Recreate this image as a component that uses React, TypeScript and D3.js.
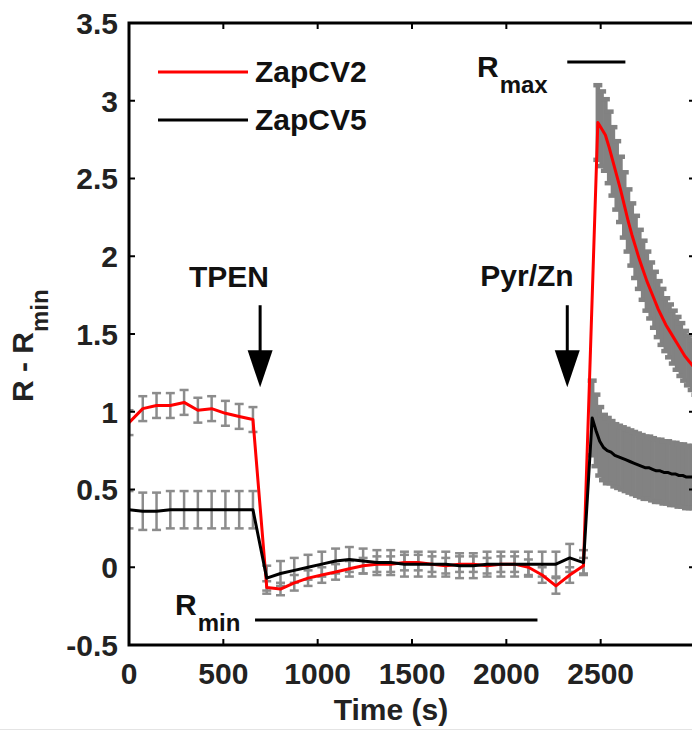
import React from 'react';
import * as d3 from 'd3';

// ---- data (time in s, values in R - Rmin) ----
const preTime = [0, 73, 146, 219, 292, 365, 438, 511, 584, 657, 730, 803, 876, 949, 1022, 1095, 1168, 1241, 1314, 1387, 1460, 1533, 1606, 1679, 1752, 1825, 1898, 1971, 2044, 2117, 2190, 2263, 2336, 2409];

const redPre = [0.93, 1.02, 1.04, 1.04, 1.06, 1.01, 1.02, 0.99, 0.97, 0.95, -0.13, -0.14, -0.10, -0.07, -0.05, -0.03, -0.01, 0.01, 0.02, 0.02, 0.03, 0.03, 0.02, 0.01, 0.02, 0.02, 0.01, 0.02, 0.02, 0.00, -0.05, -0.12, -0.05, 0.01];
const redPreErr = [0.08, 0.08, 0.08, 0.08, 0.08, 0.08, 0.08, 0.08, 0.08, 0.08, 0.04, 0.04, 0.05, 0.05, 0.05, 0.05, 0.05, 0.05, 0.05, 0.05, 0.05, 0.05, 0.05, 0.05, 0.05, 0.05, 0.05, 0.05, 0.05, 0.05, 0.05, 0.05, 0.05, 0.05];

const blackPre = [0.37, 0.36, 0.36, 0.37, 0.37, 0.37, 0.37, 0.37, 0.37, 0.37, -0.07, -0.04, -0.02, 0.00, 0.02, 0.04, 0.05, 0.04, 0.03, 0.03, 0.02, 0.02, 0.02, 0.02, 0.01, 0.01, 0.02, 0.02, 0.02, 0.02, 0.02, 0.02, 0.06, 0.03];
const blackPreErr = [0.12, 0.12, 0.12, 0.12, 0.12, 0.12, 0.12, 0.12, 0.12, 0.12, 0.08, 0.08, 0.08, 0.08, 0.08, 0.08, 0.08, 0.08, 0.08, 0.08, 0.08, 0.08, 0.08, 0.08, 0.08, 0.08, 0.08, 0.08, 0.08, 0.08, 0.08, 0.08, 0.09, 0.08];

const redPostTime = [2485, 2505, 2525, 2545, 2565, 2585, 2605, 2625, 2645, 2665, 2685, 2705, 2725, 2745, 2765, 2785, 2805, 2825, 2845, 2865, 2885, 2905, 2925, 2945, 2965, 2985, 3005];
const redPost = [2.86, 2.82, 2.78, 2.70, 2.61, 2.52, 2.43, 2.33, 2.23, 2.14, 2.06, 1.98, 1.91, 1.84, 1.78, 1.72, 1.66, 1.61, 1.56, 1.52, 1.48, 1.44, 1.40, 1.36, 1.33, 1.30, 1.27];
const redPostErr = [0.24, 0.24, 0.23, 0.23, 0.22, 0.22, 0.21, 0.21, 0.20, 0.20, 0.20, 0.19, 0.19, 0.19, 0.18, 0.18, 0.18, 0.18, 0.17, 0.17, 0.17, 0.17, 0.17, 0.16, 0.16, 0.16, 0.16];

const blackPostTime = [2455, 2475, 2495, 2515, 2535, 2555, 2575, 2595, 2615, 2635, 2655, 2675, 2695, 2715, 2735, 2755, 2775, 2795, 2815, 2835, 2855, 2875, 2895, 2915, 2935, 2955, 2975, 2995];
const blackPost = [0.96, 0.88, 0.81, 0.77, 0.75, 0.74, 0.72, 0.71, 0.70, 0.69, 0.68, 0.67, 0.66, 0.65, 0.64, 0.64, 0.63, 0.62, 0.62, 0.61, 0.61, 0.60, 0.60, 0.59, 0.59, 0.58, 0.58, 0.58];
const blackPostErr = [0.24, 0.23, 0.22, 0.21, 0.21, 0.20, 0.20, 0.20, 0.20, 0.20, 0.20, 0.20, 0.20, 0.20, 0.20, 0.20, 0.20, 0.20, 0.20, 0.20, 0.20, 0.20, 0.20, 0.20, 0.20, 0.20, 0.20, 0.20];

const xTicks = [0, 500, 1000, 1500, 2000, 2500, 3000];
const xTickLabels = ['0', '500', '1000', '1500', '2000', '2500', ''];
const yTicks = [-0.5, 0, 0.5, 1, 1.5, 2, 2.5, 3, 3.5];
const yTickLabels = ['-0.5', '0', '0.5', '1', '1.5', '2', '2.5', '3', '3.5'];

const seriesNames = ['ZapCV2', 'ZapCV5'];
const seriesColors = ['#ff0000', '#000000'];

// annotation anchors (data coords)
const tpenTime = 695;
const pyrTime = 2323;
const rminSpan = [668, 2165];
const rminLevel = -0.34;
const rmaxSpan = [2323, 2631];
const rmaxLevel = 3.25;

const W = 692;
const H = 732;
const FONT = '"Liberation Sans", Arial, Helvetica, sans-serif';
const FS = 30;
const SUB = 24;

export default function App() {
  const x = d3.scaleLinear().domain([0, 3000]).range([129, 695]);
  const y = d3.scaleLinear().domain([-0.5, 3.5]).range([645, 23]);

  const redT = [...preTime, ...redPostTime];
  const redV = [...redPre, ...redPost];
  const blkT = [...preTime, ...blackPostTime];
  const blkV = [...blackPre, ...blackPost];

  const line = d3
    .line<[number, number]>()
    .x((d) => x(d[0]))
    .y((d) => y(d[1]));

  const redPts: [number, number][] = redT.map((t, i) => [t, redV[i]]);
  const blkPts: [number, number][] = blkT.map((t, i) => [t, blkV[i]]);

  const errColor = '#828282';

  const errBars = (T: number[], V: number[], E: number[], key: string, sw: number, cap: number, color: string) =>
    T.map((t, i) => {
      const cx = x(t);
      const y1 = y(V[i] + E[i]);
      const y2 = y(V[i] - E[i]);
      return (
        <g key={key + i} stroke={color} strokeWidth={sw}>
          <line x1={cx} x2={cx} y1={y1} y2={y2} />
          <line x1={cx - cap} x2={cx + cap} y1={y1} y2={y1} />
          <line x1={cx - cap} x2={cx + cap} y1={y2} y2={y2} />
        </g>
      );
    });

  const x0 = x(0);
  const x1 = x(3000);
  const yTop = y(3.5);
  const yBot = y(-0.5);
  const tickLen = 6;

  const arrow = (t: number, key: string) => {
    const ax = x(t);
    const shaftTop = y(1.685);
    const headTop = y(1.395);
    const tip = y(1.157);
    return (
      <g key={key}>
        <line x1={ax} x2={ax} y1={shaftTop} y2={headTop + 2} stroke="#000" strokeWidth={3} />
        <polygon points={`${ax - 12.5},${headTop} ${ax + 12.5},${headTop} ${ax},${tip}`} fill="#000" />
      </g>
    );
  };

  return (
    <svg
      width={W}
      height={H}
      style={{ position: 'absolute', left: 0, top: 0, background: '#fff' }}
      fontFamily={FONT}
      fontWeight="bold"
    >
      <rect x={0} y={0} width={W} height={H} fill="#fff" />
      <defs>
        <clipPath id="plotclip">
          <rect x={x0} y={yTop} width={x1 - x0} height={yBot - yTop} />
        </clipPath>
      </defs>

      <g clipPath="url(#plotclip)">
        {errBars(preTime, redPre, redPreErr, 're', 2.5, 4.5, '#8c8c8c')}
        {errBars(preTime, blackPre, blackPreErr, 'be', 2.5, 4.5, '#8c8c8c')}
        {errBars(redPostTime, redPost, redPostErr, 'rp', 4.5, 4.5, errColor)}
        {errBars(blackPostTime, blackPost, blackPostErr, 'bp', 4.5, 4.5, errColor)}
        <path d={line(redPts) || ''} fill="none" stroke={seriesColors[0]} strokeWidth={3} strokeLinejoin="round" />
        <path d={line(blkPts) || ''} fill="none" stroke={seriesColors[1]} strokeWidth={3} strokeLinejoin="round" />
      </g>

      {/* axes box */}
      <rect x={x0} y={yTop} width={x1 - x0} height={yBot - yTop} fill="none" stroke="#000" strokeWidth={3} />
      {xTicks.map((t, i) => (
        <g key={'xt' + i}>
          <line x1={x(t)} x2={x(t)} y1={yBot} y2={yBot - tickLen} stroke="#000" strokeWidth={2} />
          <line x1={x(t)} x2={x(t)} y1={yTop} y2={yTop + tickLen} stroke="#000" strokeWidth={2} />
          <text x={x(t)} y={684} textAnchor="middle" fontSize={FS} fill="#222">
            {xTickLabels[i]}
          </text>
        </g>
      ))}
      {yTicks.map((v, i) => (
        <g key={'yt' + i}>
          <line x1={x0} x2={x0 + tickLen} y1={y(v)} y2={y(v)} stroke="#000" strokeWidth={2} />
          <line x1={x1} x2={x1 - tickLen} y1={y(v)} y2={y(v)} stroke="#000" strokeWidth={2} />
          <text x={118} y={y(v)} dy="0.36em" textAnchor="end" fontSize={FS} fill="#222">
            {yTickLabels[i]}
          </text>
        </g>
      ))}

      {/* axis titles */}
      <text x={391} y={720} textAnchor="middle" fontSize={FS} fill="#222">
        Time (s)
      </text>
      <text transform="translate(33,402) rotate(-90)" fontSize={FS} fill="#222">
        <tspan>R - R</tspan>
        <tspan fontSize={SUB} dy={15}>min</tspan>
      </text>

      {/* legend */}
      {seriesNames.map((n, i) => (
        <g key={'lg' + i}>
          <line x1={158} x2={248} y1={72 + i * 48} y2={72 + i * 48} stroke={seriesColors[i]} strokeWidth={3} />
          <text x={255} y={82 + i * 48} fontSize={FS} fill="#111">
            {n}
          </text>
        </g>
      ))}

      {/* annotations */}
      <text x={229} y={287} textAnchor="middle" fontSize={FS} fill="#111">TPEN</text>
      {arrow(tpenTime, 'a1')}
      <text x={527} y={286} textAnchor="middle" fontSize={FS} fill="#111">Pyr/Zn</text>
      {arrow(pyrTime, 'a2')}

      <line x1={x(rminSpan[0])} x2={x(rminSpan[1])} y1={y(rminLevel)} y2={y(rminLevel)} stroke="#000" strokeWidth={3} />
      <text x={175} y={615} fontSize={FS} fill="#111">
        <tspan>R</tspan>
        <tspan fontSize={SUB} dy={16} dx={1}>min</tspan>
      </text>

      <line x1={x(rmaxSpan[0])} x2={x(rmaxSpan[1])} y1={y(rmaxLevel)} y2={y(rmaxLevel)} stroke="#000" strokeWidth={3} />
      <text x={477} y={77} fontSize={FS} fill="#111">
        <tspan>R</tspan>
        <tspan fontSize={SUB} dy={16} dx={1}>max</tspan>
      </text>

      <line x1={0} x2={W} y1={729.5} y2={729.5} stroke="#e4e4e4" strokeWidth={1} />
    </svg>
  );
}
